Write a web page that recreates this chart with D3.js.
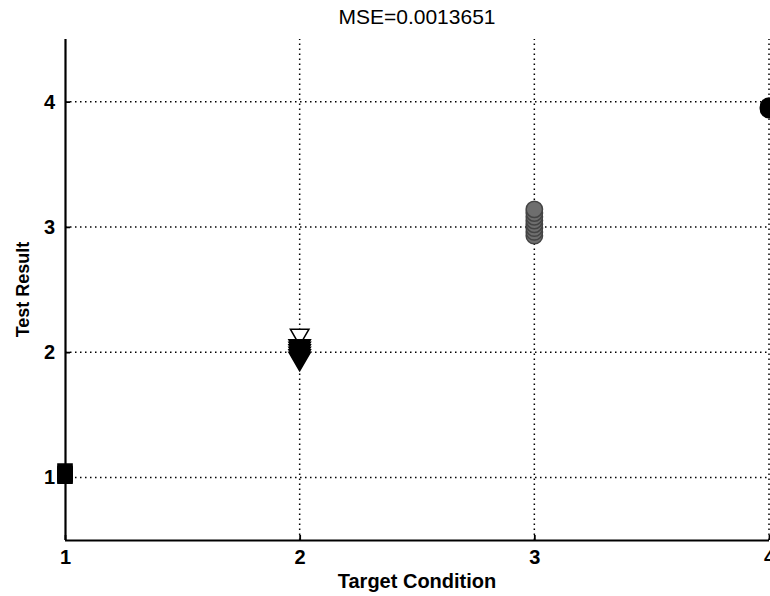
<!DOCTYPE html>
<html>
<head>
<meta charset="utf-8">
<script src="https://cdn.jsdelivr.net/npm/d3@7"></script>
<style>
  body { margin: 0; background: #fff; }
  text { font-family: "Liberation Sans", Arial, sans-serif; fill: #000; }
</style>
</head>
<body>
<svg id="chart" width="770" height="596"></svg>
<script>
// values
var conditions = [1, 2, 3, 4];
var xTicks = [1, 2, 3, 4];
var yTicks = [1, 2, 3, 4];
var cond1Results = [1.01, 1.02, 1.03, 1.05];
var cond2Hollow = [2.14];
var cond2Results = [1.95, 1.97, 1.99, 2.01, 2.03, 2.05];
var cond3Results = [2.93, 2.96, 2.99, 3.02, 3.05, 3.08, 3.11, 3.14];
var cond4Results = [3.94, 3.95, 3.96];
var mse = "0.0013651";

var svg = d3.select("#chart");
svg.append("rect").attr("width", 770).attr("height", 596).attr("fill", "#fff");

var x = d3.scaleLinear().domain([1, 4]).range([65, 769]);
var y = d3.scaleLinear().domain([0.5, 4.5]).range([540, 39]);

// dotted grid
var grid = svg.append("g");
grid.selectAll("line.gx")
  .data(xTicks.slice(1))
  .enter().append("line")
  .attr("x1", d => x(d)).attr("x2", d => x(d))
  .attr("y1", y(0.5)).attr("y2", y(4.5))
  .attr("stroke", "#000").attr("stroke-width", 1.5)
  .attr("stroke-dasharray", "1.5,3.5");
grid.selectAll("line.gy")
  .data(yTicks)
  .enter().append("line")
  .attr("x1", x(1)).attr("x2", x(4))
  .attr("y1", d => y(d)).attr("y2", d => y(d))
  .attr("stroke", "#000").attr("stroke-width", 1.5)
  .attr("stroke-dasharray", "1.5,3.5");

// axes, ticks pointing inward like matlab
var xAxis = d3.axisBottom(x).tickValues(xTicks).tickSize(-5).tickPadding(10).tickFormat(d3.format("d"));
var yAxis = d3.axisLeft(y).tickValues(yTicks).tickSize(-5).tickPadding(10).tickFormat(d3.format("d"));

var gx = svg.append("g").attr("transform", "translate(0," + y(0.5) + ")").call(xAxis);
var gy = svg.append("g").attr("transform", "translate(" + x(1) + ",0)").call(yAxis);

[gx, gy].forEach(function(g) {
  g.select(".domain").attr("stroke", "#000").attr("stroke-width", 2.2);
  g.selectAll(".tick line").attr("stroke", "#000").attr("stroke-width", 1.8);
  g.selectAll(".tick text")
    .style("font-size", "20px").style("font-weight", "bold")
    .attr("fill", "#000");
});
// matlab style axes have no end caps
gx.select(".domain").attr("d", "M" + x(1) + ",0.5H" + x(4));
gy.select(".domain").attr("d", "M0.5," + y(0.5) + "V" + y(4.5));

// markers
function drawGroup(cond, vals, type, size, fill, stroke, rot) {
  svg.append("g").selectAll("path")
    .data(vals)
    .enter().append("path")
    .attr("d", d3.symbol().type(type).size(size))
    .attr("transform", d => "translate(" + x(cond) + "," + y(d) + ")" + (rot ? " rotate(180)" : ""))
    .attr("fill", fill)
    .attr("stroke", stroke)
    .attr("stroke-width", 1.5);
}

drawGroup(conditions[0], cond1Results, d3.symbolSquare, 200, "#000", "#000", false);
drawGroup(conditions[1], cond2Hollow, d3.symbolTriangle, 150, "#fff", "#000", true);
drawGroup(conditions[1], cond2Results, d3.symbolTriangle, 200, "#000", "#000", true);
drawGroup(conditions[2], cond3Results, d3.symbolCircle, 210, "#6e6e6e", "#444", false);
drawGroup(conditions[3], cond4Results, d3.symbolCircle, 230, "#000", "#000", false);

// labels
svg.append("text")
  .attr("x", (x(1) + x(4)) / 2).attr("y", 24)
  .attr("text-anchor", "middle")
  .style("font-size", "21px")
  .text("MSE=" + mse);

svg.append("text")
  .attr("x", (x(1) + x(4)) / 2).attr("y", 588)
  .attr("text-anchor", "middle")
  .style("font-size", "20px").style("font-weight", "bold")
  .text("Target Condition");

svg.append("text")
  .attr("transform", "translate(29," + (y(2.5) + 0) + ") rotate(-90)")
  .attr("text-anchor", "middle")
  .style("font-size", "18px").style("font-weight", "bold")
  .text("Test Result");
</script>
</body>
</html>
